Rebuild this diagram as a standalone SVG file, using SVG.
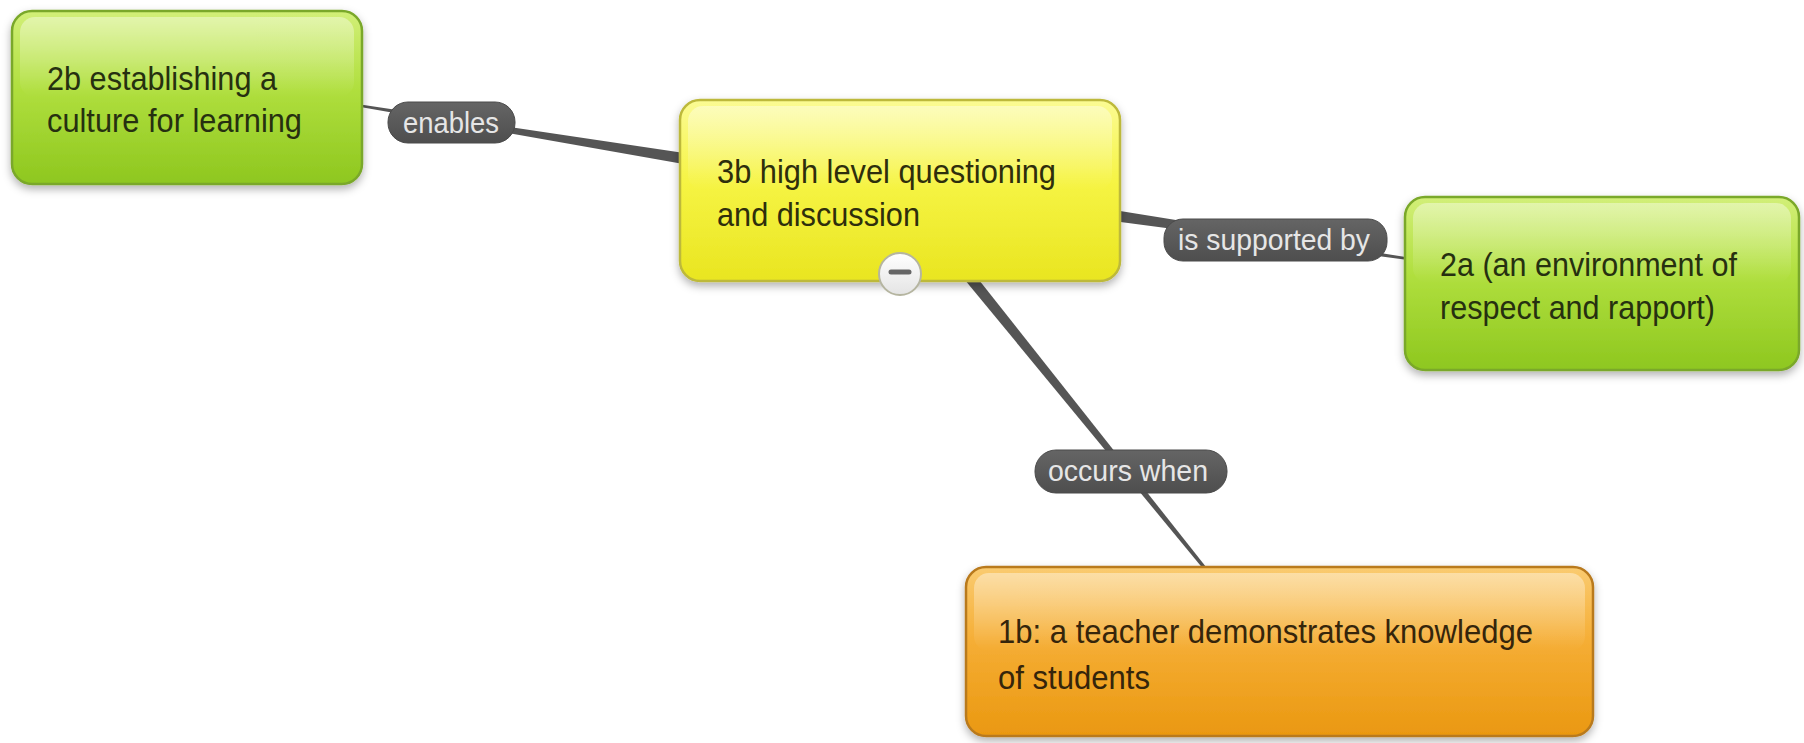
<svg xmlns="http://www.w3.org/2000/svg" width="1804" height="743" viewBox="0 0 1804 743">
  <style>
    .nt { font-family: "Liberation Sans", Arial, Helvetica, sans-serif; font-size: 33px; }
    .lt { font-family: "Liberation Sans", Arial, Helvetica, sans-serif; font-size: 29px; fill: #e6e6e6; }
    .conn { fill: #555555; }
    .pill { fill: url(#gPill); stroke: #4a4a4a; stroke-width: 1; }
    .gloss { fill: url(#gGloss); }
  </style>
  <defs>
    <linearGradient id="gGreen" x1="0" y1="0" x2="0" y2="1">
      <stop offset="0" stop-color="#d2ef78"/>
      <stop offset="0.45" stop-color="#b0df3e"/>
      <stop offset="1" stop-color="#8ec71f"/>
    </linearGradient>
    <linearGradient id="gYellow" x1="0" y1="0" x2="0" y2="1">
      <stop offset="0" stop-color="#fbfb94"/>
      <stop offset="0.45" stop-color="#f6f444"/>
      <stop offset="1" stop-color="#e9e520"/>
    </linearGradient>
    <linearGradient id="gOrange" x1="0" y1="0" x2="0" y2="1">
      <stop offset="0" stop-color="#facb70"/>
      <stop offset="0.45" stop-color="#f5ad34"/>
      <stop offset="1" stop-color="#ea9810"/>
    </linearGradient>
    <linearGradient id="gGloss" x1="0" y1="0" x2="0" y2="1">
      <stop offset="0" stop-color="#ffffff" stop-opacity="0.4"/>
      <stop offset="0.7" stop-color="#ffffff" stop-opacity="0.12"/>
      <stop offset="1" stop-color="#ffffff" stop-opacity="0"/>
    </linearGradient>
    <linearGradient id="gPill" x1="0" y1="0" x2="0" y2="1">
      <stop offset="0" stop-color="#656565"/>
      <stop offset="1" stop-color="#4e4e4e"/>
    </linearGradient>
    <linearGradient id="gBtn" x1="0" y1="0" x2="0" y2="1">
      <stop offset="0" stop-color="#ffffff"/>
      <stop offset="1" stop-color="#e4e4e4"/>
    </linearGradient>
    <filter id="shadow" x="-10%" y="-15%" width="120%" height="140%">
      <feDropShadow dx="0" dy="4" stdDeviation="4" flood-color="#000000" flood-opacity="0.3"/>
    </filter>
  </defs>

  <rect x="0" y="0" width="1804" height="743" fill="#ffffff"/>

  <g id="connectors">
    <polygon class="conn" points="362.2,104.8 690.9,154.1 689.1,164.9 361.8,107.2"/>
    <polygon class="conn" points="1110.8,209.6 1410.2,257.8 1409.8,260.2 1109.2,220.4"/>
    <polygon class="conn" points="972.3,271.5 1210,572 1207,573.5 963.7,278.5"/>
    <g id="label-enables">
      <rect class="pill" x="388" y="102" width="127" height="41" rx="20"/>
      <text class="lt" x="403" y="133" textLength="96" lengthAdjust="spacingAndGlyphs">enables</text>
    </g>
    <g id="label-supported">
      <rect class="pill" x="1164" y="219" width="223" height="42" rx="19"/>
      <text class="lt" x="1178" y="250" textLength="192" lengthAdjust="spacingAndGlyphs">is supported by</text>
    </g>
    <g id="label-occurs">
      <rect class="pill" x="1035" y="450" width="192" height="43" rx="21"/>
      <text class="lt" x="1048" y="481" textLength="160" lengthAdjust="spacingAndGlyphs">occurs when</text>
    </g>
  </g>

  <g id="node-2b">
    <rect x="12" y="11" width="350" height="173" rx="20" fill="url(#gGreen)" stroke="#7aa829" stroke-width="2.5" filter="url(#shadow)"/>
    <rect class="gloss" x="20" y="17" width="334" height="80" rx="15"/>
    <text class="nt" fill="#263010" x="47" y="90" textLength="230" lengthAdjust="spacingAndGlyphs">2b establishing a</text>
    <text class="nt" fill="#263010" x="47" y="132" textLength="255" lengthAdjust="spacingAndGlyphs">culture for learning</text>
  </g>

  <g id="node-3b">
    <rect x="680" y="100" width="440" height="181" rx="20" fill="url(#gYellow)" stroke="#bdb93a" stroke-width="2.5" filter="url(#shadow)"/>
    <rect class="gloss" x="688" y="106" width="424" height="84" rx="15"/>
    <text class="nt" fill="#2e2e0c" x="717" y="183" textLength="339" lengthAdjust="spacingAndGlyphs">3b high level questioning</text>
    <text class="nt" fill="#2e2e0c" x="717" y="226" textLength="203" lengthAdjust="spacingAndGlyphs">and discussion</text>
    <g id="collapse-button">
      <circle cx="900" cy="274" r="21" fill="url(#gBtn)" stroke="#b5b5a0" stroke-width="2"/>
      <line x1="891" y1="272" x2="909" y2="272" stroke="#666666" stroke-width="5" stroke-linecap="round"/>
    </g>
  </g>

  <g id="node-2a">
    <rect x="1405" y="197" width="394" height="173" rx="20" fill="url(#gGreen)" stroke="#7aa829" stroke-width="2.5" filter="url(#shadow)"/>
    <rect class="gloss" x="1413" y="203" width="378" height="80" rx="15"/>
    <text class="nt" fill="#263010" x="1440" y="276" textLength="297" lengthAdjust="spacingAndGlyphs">2a (an environment of</text>
    <text class="nt" fill="#263010" x="1440" y="319" textLength="275" lengthAdjust="spacingAndGlyphs">respect and rapport)</text>
  </g>

  <g id="node-1b">
    <rect x="966" y="567" width="627" height="169" rx="20" fill="url(#gOrange)" stroke="#b97a1e" stroke-width="2.5" filter="url(#shadow)"/>
    <rect class="gloss" x="974" y="573" width="611" height="78" rx="15"/>
    <text class="nt" fill="#35250b" x="998" y="643" textLength="535" lengthAdjust="spacingAndGlyphs">1b: a teacher demonstrates knowledge</text>
    <text class="nt" fill="#35250b" x="998" y="689" textLength="152" lengthAdjust="spacingAndGlyphs">of students</text>
  </g>
</svg>
